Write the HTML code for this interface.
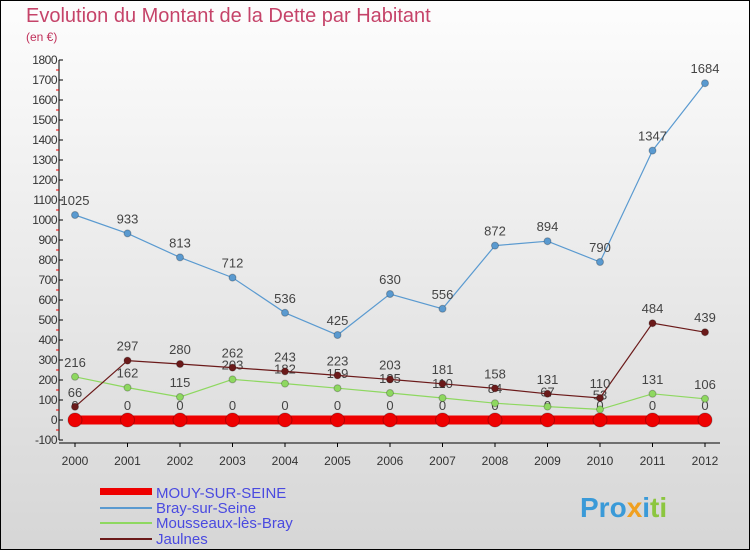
<!DOCTYPE html>
<html><head><meta charset="utf-8"><style>
body{margin:0;}
svg{display:block;font-family:"Liberation Sans",sans-serif;}
</style></head><body>
<svg id="chart" width="750" height="550" viewBox="0 0 750 550">
<defs><linearGradient id="bg" x1="0" y1="0" x2="0" y2="1"><stop offset="0" stop-color="#fdfdfd"/><stop offset="1" stop-color="#d6d6d6"/></linearGradient></defs>
<rect x="0.5" y="0.5" width="749" height="549" fill="url(#bg)" stroke="#000"/>
<text x="26" y="22" font-size="20" fill="#c0305a" opacity="0.9">Evolution du Montant de la Dette par Habitant</text>
<text x="26" y="41" font-size="12" fill="#c0305a">(en €)</text>
<g id="axes"></g>
<g id="series"></g>
<g id="legend" font-size="15">
<rect x="100" y="488" width="52" height="7" fill="#ee0000"/>
<text x="156" y="498" fill="#4a4ae0">MOUY-SUR-SEINE</text>
<rect x="100" y="507" width="52" height="2" fill="#5a9ad0"/>
<text x="156" y="513" fill="#4a4ae0">Bray-sur-Seine</text>
<rect x="100" y="522" width="52" height="2" fill="#8ed860"/>
<text x="156" y="528" fill="#4a4ae0">Mousseaux-lès-Bray</text>
<rect x="100" y="538" width="52" height="2" fill="#6b1a1a"/>
<text x="156" y="544" fill="#4a4ae0">Jaulnes</text>
</g>
<text x="580" y="517" font-size="28" font-weight="bold" fill="#3a9ad8">Pro<tspan fill="#f0a020">x</tspan><tspan fill="#3a9ad8">i</tspan><tspan fill="#8cc63f">ti</tspan></text>
</svg>
<script>
const years=["2000","2001","2002","2003","2004","2005","2006","2007","2008","2009","2010","2011","2012"];
const mouy=[0,0,0,0,0,0,0,0,0,0,0,0,0];
const bray=[1025,933,813,712,536,425,630,556,872,894,790,1347,1684];
const mousseaux=[216,162,115,203,182,159,135,110,84,67,53,131,106];
const jaulnes=[66,297,280,262,243,223,203,181,158,131,110,484,439];
const yTicks=[-100,0,100,200,300,400,500,600,700,800,900,1000,1100,1200,1300,1400,1500,1600,1700,1800];
const NS="http://www.w3.org/2000/svg";
const X=i=>75+i*52.5, Y=v=>420-v*0.2;
function mk(t,a,p){const e=document.createElementNS(NS,t);for(const k in a)e.setAttribute(k,a[k]);p.appendChild(e);return e;}
const ax=document.getElementById('axes'), sg=document.getElementById('series');
let l=mk('line',{x1:59,y1:Y(1800),x2:59,y2:Y(-100),stroke:'#000'},ax);


l=mk('line',{x1:59,y1:Y(-100)+3,x2:720,y2:Y(-100)+3,stroke:'#000'},ax);


yTicks.forEach(v=>{
 mk('line',{x1:59,y1:Y(v),x2:63,y2:Y(v),stroke:'#000'},ax);
 if(v<1800) mk('line',{x1:56,y1:Y(v+50),x2:59,y2:Y(v+50),stroke:'#e00'},ax);
 const t=mk('text',{x:57,y:Y(v)+4,'text-anchor':'end','font-size':12,fill:'#333','letter-spacing':'-0.5'},ax);
 t.textContent=v;
 
 
});
years.forEach((y,i)=>{
 mk('line',{x1:X(i),y1:Y(-100)+3,x2:X(i),y2:Y(-100)+7,stroke:'#000'},ax);
 const t=mk('text',{x:X(i),y:465,'text-anchor':'middle','font-size':12,fill:'#333'},ax);
 t.textContent=y;
 
 
});
function series(data,color,w,r,name){
 const g=mk('g',{},sg);
 
 
 mk('polyline',{points:data.map((v,i)=>X(i)+','+Y(v)).join(' '),fill:'none',stroke:color,'stroke-width':w},g);
 data.forEach((v,i)=>{
  const c=mk('circle',{cx:X(i),cy:Y(v),r:r,fill:color,stroke:'rgba(0,0,0,0.25)','stroke-width':1},g);
  
  
  const t=mk('text',{x:X(i),y:Y(v)-10,'text-anchor':'middle','font-size':13,fill:'#444'},g);
  t.textContent=v;
  
  
 });
}
series(mouy,'#ee0000',9,7,'series-mouy');
series(bray,'#5a9ad0',1.2,3.5,'series-bray');
series(mousseaux,'#8ed860',1.2,3.5,'series-mousseaux');
series(jaulnes,'#6b1a1a',1.2,3.5,'series-jaulnes');
</script>
</body></html>
